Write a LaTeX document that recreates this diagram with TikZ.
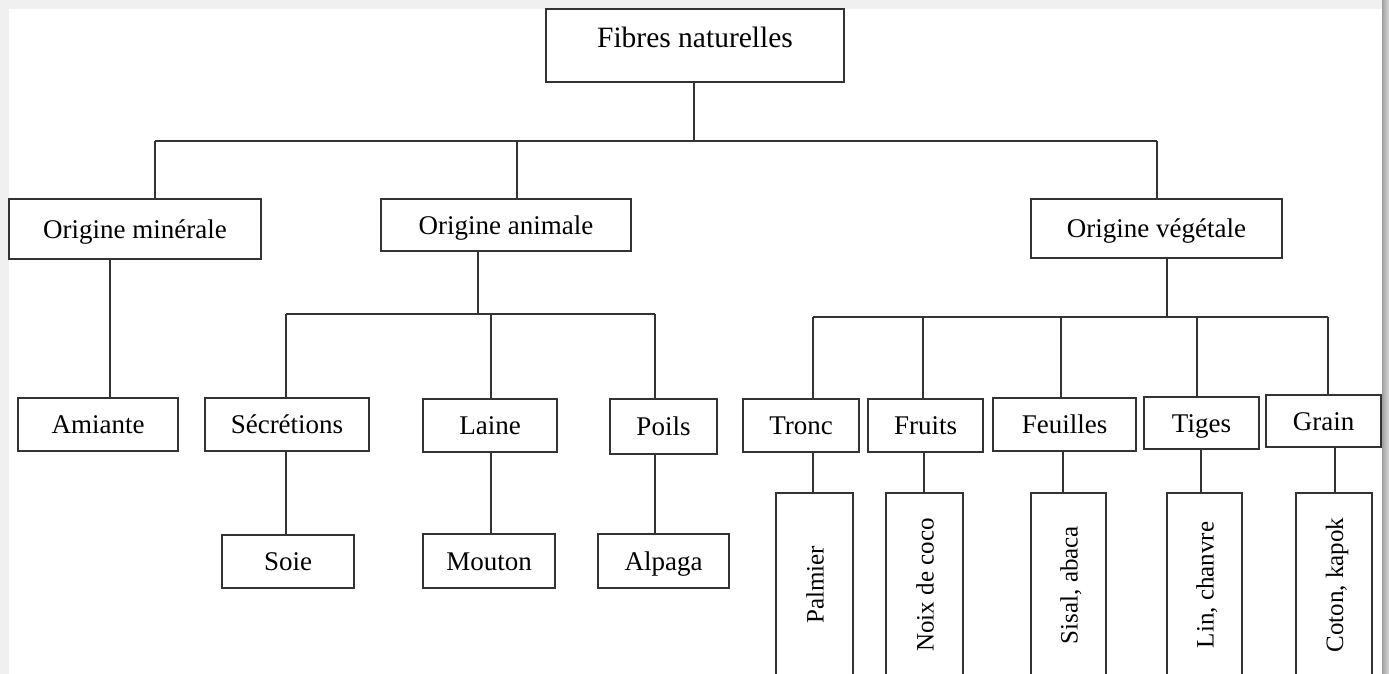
\documentclass[tikz,border=0pt]{standalone}
\usepackage{fontspec}
\setmainfont{Liberation Serif}
\usetikzlibrary{calc}
\definecolor{linec}{HTML}{333333}
\begin{document}
\begin{tikzpicture}[x=1pt,y=-1pt,
  box/.style={draw=linec, line width=2pt, inner sep=0pt, fill=white,
    text height=18pt, text depth=0pt, font=\fontsize{27}{30}\selectfont},
  vbox/.style={box, rotate=90, font=\fontsize{25}{28}\selectfont, minimum width=184pt},
  conn/.style={draw=linec, line width=2pt}]
\useasboundingbox (0,0) rectangle (1389,674);
\clip (0,0) rectangle (1389,674);
% page background and shadow
\fill[gray!12] (0,0) rectangle (1389,674);
\shade[left color=gray!75, right color=gray!30] (1382,0) rectangle (1389,674);
\fill[white] (9,9) rectangle (1382,674);

% nodes
\node[box, minimum width=298pt, text height=39pt, text depth=34pt,
  font=\fontsize{29.5}{32}\selectfont] (fibres) at (695,45.5) {Fibres naturelles};
\node[box, minimum width=252pt, minimum height=60pt] (min) at (135,229) {Origine minérale};
\node[box, minimum width=250pt, minimum height=52pt] (ani) at (506,225) {Origine animale};
\node[box, minimum width=251pt, minimum height=59pt] (veg) at (1156.5,228.5) {Origine végétale};

\node[box, minimum width=160pt, minimum height=53pt] (amiante) at (98,424.5) {Amiante};
\node[box, minimum width=164pt, minimum height=53pt] (secr) at (287,424.5) {Sécrétions};
\node[box, minimum width=134pt, minimum height=53pt] (laine) at (490,425.5) {Laine};
\node[box, minimum width=107pt, minimum height=55pt] (poils) at (663.5,426.5) {Poils};
\node[box, minimum width=132pt, minimum height=53pt] (soie) at (288,561.5) {Soie};
\node[box, minimum width=132pt, minimum height=54pt] (mouton) at (489,561) {Mouton};
\node[box, minimum width=131pt, minimum height=54pt] (alpaga) at (663.5,561) {Alpaga};

\node[box, minimum width=116pt, minimum height=53pt] (tronc) at (801,425.5) {Tronc};
\node[box, minimum width=115pt, minimum height=53pt] (fruits) at (925.5,425.5) {Fruits};
\node[box, minimum width=143pt, minimum height=53pt] (feuilles) at (1064.5,424.5) {Feuilles};
\node[box, minimum width=115pt, minimum height=52pt] (tiges) at (1201.5,423) {Tiges};
\node[box, minimum width=115pt, minimum height=52pt] (grain) at (1323.5,421) {Grain};

\node[vbox, minimum height=77pt] (palmier) at (814.5,585) {Palmier};
\node[vbox, minimum height=77pt] (noix) at (924.5,585) {Noix de coco};
\node[vbox, minimum height=75pt] (sisal) at (1068.5,585) {Sisal, abaca};
\node[vbox, minimum height=75pt] (lin) at (1204.5,585) {Lin, chanvre};
\node[vbox, minimum height=76pt] (coton) at (1334,585) {Coton, kapok};

% junction coordinates
\coordinate (j0) at (694,141);
\coordinate (t1) at (155,141);
\coordinate (t2) at (517,141);
\coordinate (t3) at (1157,141);
\coordinate (a1) at (110,0);
\coordinate (j1) at (478,314);
\coordinate (b1) at (286,314);
\coordinate (b2) at (491,314);
\coordinate (b3) at (655,314);
\coordinate (j2) at (1167,317);
\coordinate (c1) at (813,317);
\coordinate (c2) at (923,317);
\coordinate (c3) at (1061,317);
\coordinate (c4) at (1197,317);
\coordinate (c5) at (1328,317);
\coordinate (d2) at (924,0);
\coordinate (d3) at (1063,0);
\coordinate (d4) at (1201,0);
\coordinate (d5) at (1335,0);

% connectors
\draw[conn] (j0 |- fibres.south) -- (j0);
\draw[conn] (t1) -- (t3);
\draw[conn] (t1) -- (t1 |- min.north);
\draw[conn] (t2) -- (t2 |- ani.north);
\draw[conn] (t3) -- (t3 |- veg.north);

\draw[conn] (a1 |- min.south) -- (a1 |- amiante.north);

\draw[conn] (j1 |- ani.south) -- (j1);
\draw[conn] (b1) -- (b3);
\draw[conn] (b1) -- (b1 |- secr.north);
\draw[conn] (b2) -- (b2 |- laine.north);
\draw[conn] (b3) -- (b3 |- poils.north);
\draw[conn] (b1 |- secr.south) -- (b1 |- soie.north);
\draw[conn] (b2 |- laine.south) -- (b2 |- mouton.north);
\draw[conn] (b3 |- poils.south) -- (b3 |- alpaga.north);

\draw[conn] (j2 |- veg.south) -- (j2);
\draw[conn] (c1) -- (c5);
\draw[conn] (c1) -- (c1 |- tronc.north);
\draw[conn] (c2) -- (c2 |- fruits.north);
\draw[conn] (c3) -- (c3 |- feuilles.north);
\draw[conn] (c4) -- (c4 |- tiges.north);
\draw[conn] (c5) -- (c5 |- grain.north);

\draw[conn] (c1 |- palmier.east) -- (c1 |- tronc.south);
\draw[conn] (d2 |- noix.east) -- (d2 |- fruits.south);
\draw[conn] (d3 |- sisal.east) -- (d3 |- feuilles.south);
\draw[conn] (d4 |- lin.east) -- (d4 |- tiges.south);
\draw[conn] (d5 |- coton.east) -- (d5 |- grain.south);
\end{tikzpicture}
\end{document}
